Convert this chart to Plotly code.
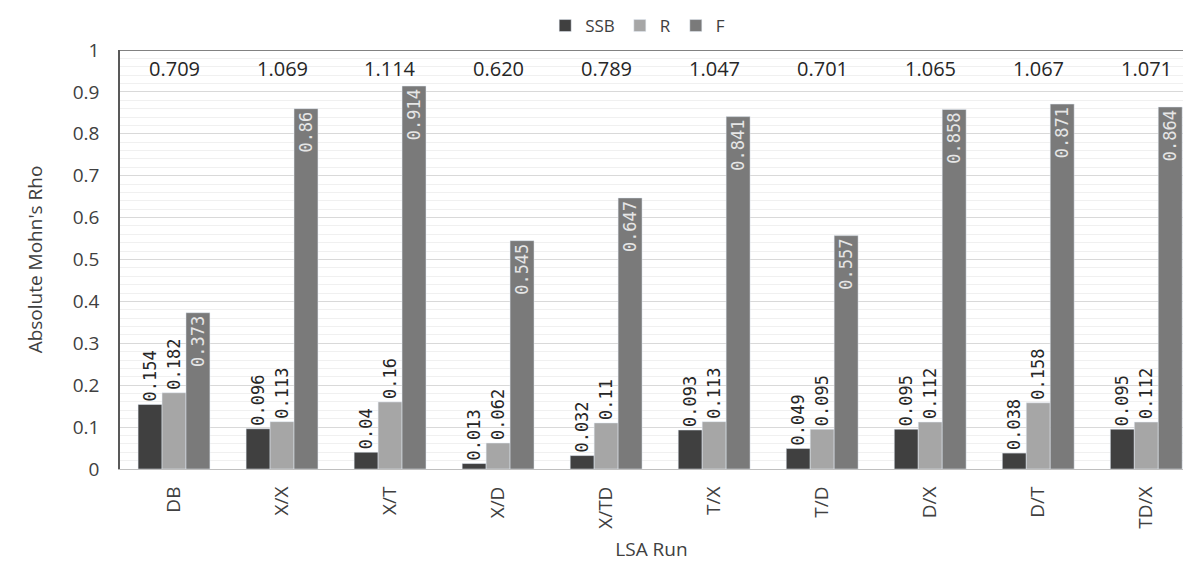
import plotly.graph_objects as go

runs = ["DB", "X/X", "X/T", "X/D", "X/TD", "T/X", "T/D", "D/X", "D/T", "TD/X"]
ssb = [0.154, 0.096, 0.04, 0.013, 0.032, 0.093, 0.049, 0.095, 0.038, 0.095]
rec = [0.182, 0.113, 0.16, 0.062, 0.11, 0.113, 0.095, 0.112, 0.158, 0.112]
fish = [0.373, 0.86, 0.914, 0.545, 0.647, 0.841, 0.557, 0.858, 0.871, 0.864]
totals = ["0.709", "1.069", "1.114", "0.620", "0.789", "1.047", "0.701", "1.065", "1.067", "1.071"]

label_font = "DejaVu Sans Mono, Liberation Mono, monospace"
main_font = "Open Sans, Noto Sans, sans-serif"
NBSP = "\u00a0"

fig = go.Figure()
fig.add_bar(name="SSB", x=runs, y=ssb, marker_color="#404040",
            text=[f"{v:g}{NBSP}" for v in ssb], textposition="outside", textangle=-90,
            textfont=dict(family=label_font, size=17, color="#262626"),
            cliponaxis=False, constraintext="none")
fig.add_bar(name="R", x=runs, y=rec, marker_color="#a6a6a6",
            text=[f"{v:g}{NBSP}" for v in rec], textposition="outside", textangle=-90,
            textfont=dict(family=label_font, size=17, color="#262626"),
            cliponaxis=False, constraintext="none")
fig.add_bar(name="F", x=runs, y=fish, marker_color="#7a7a7a",
            text=[f"{v:g}" for v in fish], textposition="inside", textangle=-90,
            insidetextanchor="end",
            textfont=dict(family=label_font, size=17, color="#e6e6e6"),
            cliponaxis=False, constraintext="none")

for r, t in zip(runs, totals):
    fig.add_annotation(x=r, y=0.957, text=t, showarrow=False,
                       font=dict(family=main_font, size=20, color="#262626"))

fig.update_layout(
    width=1195, height=584,
    barmode="group", bargap=0.335, bargroupgap=0,
    paper_bgcolor="white", plot_bgcolor="white",
    margin=dict(l=112, r=20, t=42, b=123, autoexpand=False),
    font=dict(family=main_font, color="#595959"),
    legend=dict(orientation="h", x=0.487, xanchor="center", y=1.0, yanchor="top",
                yref="container", font=dict(size=17, color="#404040"),
                traceorder="normal", itemwidth=30),
)
fig.update_xaxes(range=[-0.5, 9.34], tickangle=-90, tickfont=dict(size=19, color="#404040"),
                 showline=True, linecolor="#bfbfbf", linewidth=1, mirror=False,
                 automargin=False, ticklabelstandoff=9,
                 title=dict(text="LSA Run", font=dict(size=19, color="#404040"), standoff=14),
                 ticks="")
fig.update_yaxes(range=[0, 1], dtick=0.1, tickformat="~g",
                 tickfont=dict(size=19, color="#404040"),
                 gridcolor="#d9d9d9", gridwidth=1,
                 minor=dict(dtick=0.02, showgrid=True, gridcolor="#f0f0f0", gridwidth=1),
                 showline=True, linecolor="#595959", linewidth=1.5,
                 zeroline=False, ticks="", automargin=False, ticklabelstandoff=15,
                 title=dict(text="Absolute Mohn's Rho", font=dict(size=19, color="#404040"), standoff=25))
fig.add_shape(type="line", xref="paper", yref="y", x0=0, x1=1, y0=1, y1=1,
              line=dict(color="#595959", width=1.5))

fig.write_html("out.html")
